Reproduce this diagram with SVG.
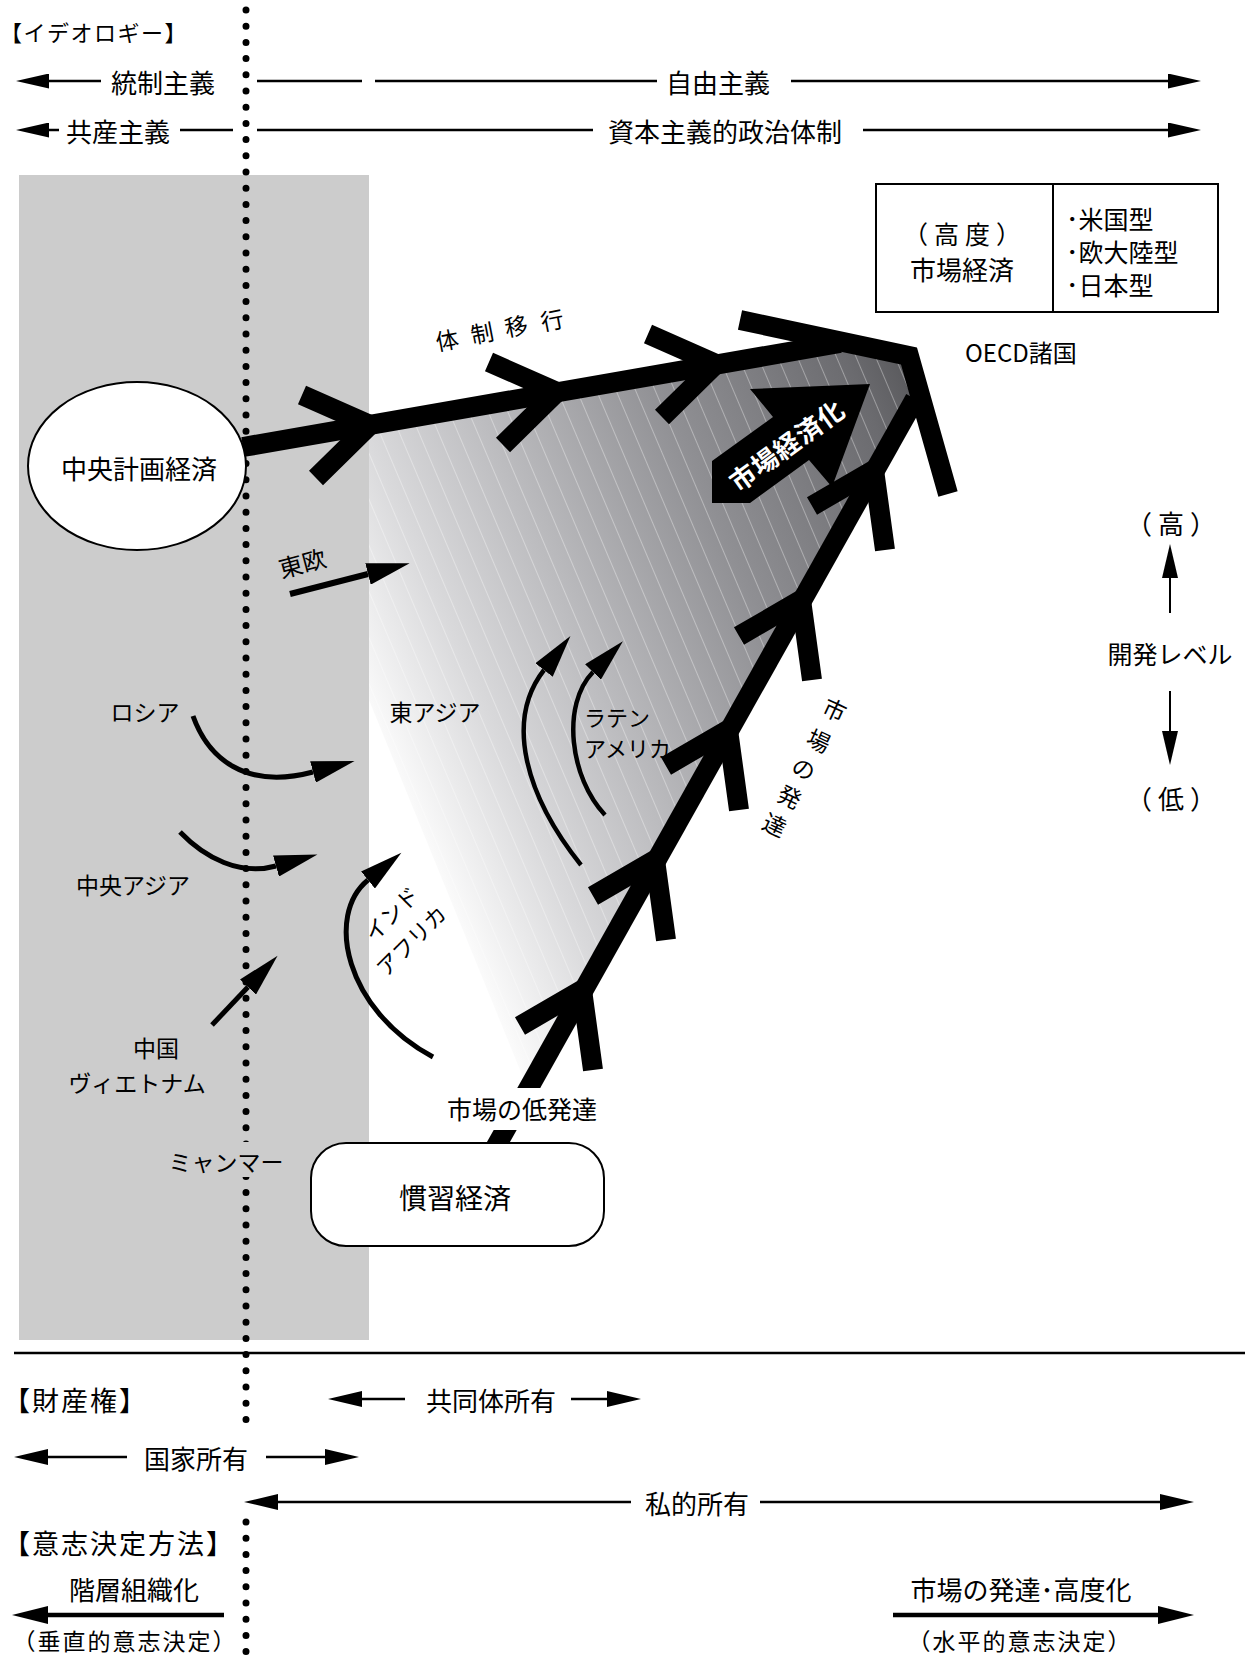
<svg xmlns="http://www.w3.org/2000/svg" width="1245" height="1671" viewBox="0 0 1245 1671">
<defs>
<style>
text{font-family:"Noto Sans CJK JP","Noto Sans",sans-serif;dominant-baseline:central;fill:#000}
.m{text-anchor:middle}
.f22{font-size:22px}.f23{font-size:23px}.f24{font-size:24px}.f25{font-size:25px}.f26{font-size:26px}.f27{font-size:27px}.f28{font-size:28px}
.ln{stroke:#000;stroke-width:2.5;fill:none}
.ln2{stroke:#000;stroke-width:2;fill:none}
.lnb{stroke:#000;stroke-width:4.5;fill:none}
.thick{stroke:#000;stroke-width:20;fill:none;stroke-linejoin:miter;stroke-miterlimit:10;stroke-linecap:butt}
.cur{stroke:#000;stroke-width:5;fill:none}
.box{fill:#fff;stroke:#000;stroke-width:2}
.dots{stroke:#000;stroke-width:7;stroke-linecap:round;stroke-dasharray:0 16.2}
</style>
<marker id="a1" markerUnits="userSpaceOnUse" orient="auto" refX="0" refY="7.5" markerWidth="34" markerHeight="15"><path d="M0,0L33,7.5L0,15z"/></marker>
<marker id="a2" markerUnits="userSpaceOnUse" orient="auto" refX="0" refY="8" markerWidth="35" markerHeight="16"><path d="M0,0L34,8L0,16z"/></marker>
<marker id="a3" markerUnits="userSpaceOnUse" orient="auto" refX="0" refY="9" markerWidth="37" markerHeight="18"><path d="M0,0L36,9L0,18z"/></marker>
<marker id="a4" markerUnits="userSpaceOnUse" orient="auto" refX="0" refY="11" markerWidth="44" markerHeight="22"><path d="M0,0L43,11L0,22z"/></marker>
<linearGradient id="grad" gradientUnits="userSpaceOnUse" x1="527" y1="1087" x2="1125" y2="833">
<stop offset="0" stop-color="#fbfbfb"/>
<stop offset="0.168" stop-color="#d9d9db"/>
<stop offset="0.337" stop-color="#bdbdc0"/>
<stop offset="0.614" stop-color="#8f8f93"/>
<stop offset="0.89" stop-color="#6b6b6f"/>
<stop offset="1" stop-color="#545457"/>
</linearGradient>
<pattern id="stripes" patternUnits="userSpaceOnUse" width="18" height="40" patternTransform="rotate(-23)">
<rect x="0" y="0" width="1" height="40" fill="#fff" fill-opacity="0.35"/>
</pattern>
</defs>

<rect width="1245" height="1671" fill="#fff"/>

<g id="background">
<rect x="19" y="175" width="350" height="1165" fill="#cccccc"/>
<polygon points="369,425 840,343 905,360 913,398 527,1087 369,700" fill="url(#grad)"/>
<polygon points="369,425 840,343 905,360 913,398 527,1087 369,700" fill="url(#stripes)"/>
<line x1="14" y1="1353" x2="1245" y2="1353" stroke="#000" stroke-width="2.5"/>
<line class="dots" x1="246" y1="10" x2="246" y2="1432"/>
<line class="dots" x1="246" y1="1522" x2="246" y2="1666"/>
<rect x="240" y="1142" width="12" height="35" fill="#cccccc"/>
</g>

<g id="connectors">
<path class="thick" d="M243,447 L840,343"/>
<polyline class="thick" points="302,395 370,425 316,478"/>
<polyline class="thick" points="489,362 557,392 503,445"/>
<polyline class="thick" points="648,334 716,364 662,417"/>
<polyline class="thick" points="740,320 909,356 948,494"/>
<path class="thick" d="M494,1150 L915,399"/>
<polyline class="thick" points="520,1026 582,990 593,1070"/>
<polyline class="thick" points="593,896 655,860 666,940"/>
<polyline class="thick" points="666,766 728,730 739,810"/>
<polyline class="thick" points="739,636 801,600 812,680"/>
<polyline class="thick" points="812,506 874,470 885,550"/>
<polygon points="712,461 773,417 750,389 870,384 832,487 809,460 750,503 712,503" fill="#000"/>
<path d="M290,594 L368,574" stroke="#000" stroke-width="6" fill="none" marker-end="url(#a4)"/>
<path class="cur" d="M193,716 C208,758 245,790 313,772" marker-end="url(#a4)"/>
<path class="cur" d="M180,832 C205,858 240,876 276,866" marker-end="url(#a4)"/>
<path class="cur" d="M212,1025 L248,987" marker-end="url(#a4)"/>
<path class="cur" d="M433,1057 C345,1010 325,915 368,880" marker-end="url(#a4)"/>
<path class="cur" style="stroke-width:4.5" d="M581,865 C525,795 505,720 544,670" marker-end="url(#a4)"/>
<path class="cur" style="stroke-width:4.5" d="M605,815 C570,778 561,705 593,672" marker-end="url(#a4)"/>
<line class="ln" x1="101" y1="81" x2="49" y2="81" marker-end="url(#a1)"/>
<line class="ln" x1="257" y1="81" x2="362" y2="81"/>
<line class="ln" x1="375" y1="81" x2="657" y2="81"/>
<line class="ln" x1="791" y1="81" x2="1168" y2="81" marker-end="url(#a1)"/>
<line class="ln" x1="59" y1="130" x2="49" y2="130" marker-end="url(#a1)"/>
<line class="ln" x1="180" y1="130" x2="233" y2="130"/>
<line class="ln" x1="257" y1="130" x2="593" y2="130"/>
<line class="ln" x1="863" y1="130" x2="1168" y2="130" marker-end="url(#a1)"/>
<line class="ln2" x1="1170" y1="613" x2="1170" y2="578" marker-end="url(#a2)"/>
<line class="ln2" x1="1170" y1="691" x2="1170" y2="731" marker-end="url(#a2)"/>
<line class="ln" x1="405" y1="1399" x2="362" y2="1399" marker-end="url(#a2)"/>
<line class="ln" x1="571" y1="1399" x2="607" y2="1399" marker-end="url(#a2)"/>
<line class="ln" x1="127" y1="1457" x2="48" y2="1457" marker-end="url(#a2)"/>
<line class="ln" x1="266" y1="1457" x2="325" y2="1457" marker-end="url(#a2)"/>
<line class="ln" x1="631" y1="1502" x2="278" y2="1502" marker-end="url(#a2)"/>
<line class="ln" x1="760" y1="1502" x2="1160" y2="1502" marker-end="url(#a2)"/>
<line class="lnb" x1="224" y1="1615" x2="48" y2="1615" marker-end="url(#a3)"/>
<line class="lnb" x1="893" y1="1615" x2="1158" y2="1615" marker-end="url(#a3)"/>
</g>

<g id="node-central-plan">
<ellipse class="box" cx="137" cy="466" rx="109" ry="84"/>
<text class="m f26" x="139" y="467">中央計画経済</text>
</g>

<g id="node-oecd">
<rect class="box" x="876" y="184" width="342" height="128"/>
<line class="ln2" x1="1053" y1="184" x2="1053" y2="312"/>
<text class="m f25" x="965" y="233" letter-spacing="6">（高度）</text>
<text class="m f26" x="962" y="268">市場経済</text>
<text class="f25" x="1066" y="218">･米国型</text>
<text class="f25" x="1066" y="251">･欧大陸型</text>
<text class="f25" x="1066" y="284">･日本型</text>
<text class="f24" x="965" y="351">OECD諸国</text>
</g>

<g id="node-customary">
<rect class="box" x="311" y="1143" width="293" height="103" rx="35" ry="35"/>
<text class="m f28" x="455" y="1197">慣習経済</text>
</g>

<g id="node-low-market">
<rect x="440" y="1088" width="170" height="42" fill="#fff"/>
<text class="m f25" x="522" y="1108">市場の低発達</text>
</g>

<g id="labels">
<text class="f22" x="0" y="31" letter-spacing="1.5">【イデオロギー】</text>
<text class="m f26" x="163" y="81">統制主義</text>
<text class="m f26" x="718" y="81">自由主義</text>
<text class="m f26" x="118" y="130">共産主義</text>
<text class="m f26" x="725" y="130">資本主義的政治体制</text>
<text class="m f23" x="449 484 518 554" y="341 334 327 321" rotate="-11">体制移行</text>
<text class="m f24" transform="translate(302,562) rotate(-15)">東欧</text>
<text class="m f23" x="145" y="711">ロシア</text>
<text class="m f23" x="435" y="711">東アジア</text>
<text class="f22" x="584" y="716">ラテン</text>
<text class="f22" x="584" y="747">アメリカ</text>
<text class="m f23" x="133" y="884">中央アジア</text>
<g transform="translate(367,936) rotate(-45)">
<text class="f22" x="0" y="0">インド</text>
<text class="f22" x="-16" y="33">アフリカ</text>
</g>
<text class="m f23" x="156" y="1047">中国</text>
<text class="m f23" x="137" y="1082">ヴィエトナム</text>
<text class="m f23" x="226" y="1161">ミャンマー</text>
<text class="m f23" x="832 816 801 787 772" y="703 734 762 790 818" rotate="25">市場の発達</text>
<text class="m f26" transform="translate(786,444) rotate(-36)" style="fill:#fff;font-weight:bold" letter-spacing="1">市場経済化</text>
<text class="m f26" x="1174" y="522" letter-spacing="6">（高）</text>
<text class="m f25" x="1170" y="653">開発レベル</text>
<text class="m f26" x="1174" y="797" letter-spacing="6">（低）</text>
<text class="f27" x="3" y="1399" letter-spacing="2">【財産権】</text>
<text class="m f26" x="491" y="1399">共同体所有</text>
<text class="m f26" x="196" y="1457">国家所有</text>
<text class="m f26" x="697" y="1502">私的所有</text>
<text class="f27" x="3" y="1542" letter-spacing="2">【意志決定方法】</text>
<text class="m f26" x="134" y="1588">階層組織化</text>
<text class="m f26" x="1021" y="1588">市場の発達･高度化</text>
<text class="m f23" x="125" y="1640" letter-spacing="2">（垂直的意志決定）</text>
<text class="m f23" x="1020" y="1640" letter-spacing="2">（水平的意志決定）</text>
</g>
</svg>
